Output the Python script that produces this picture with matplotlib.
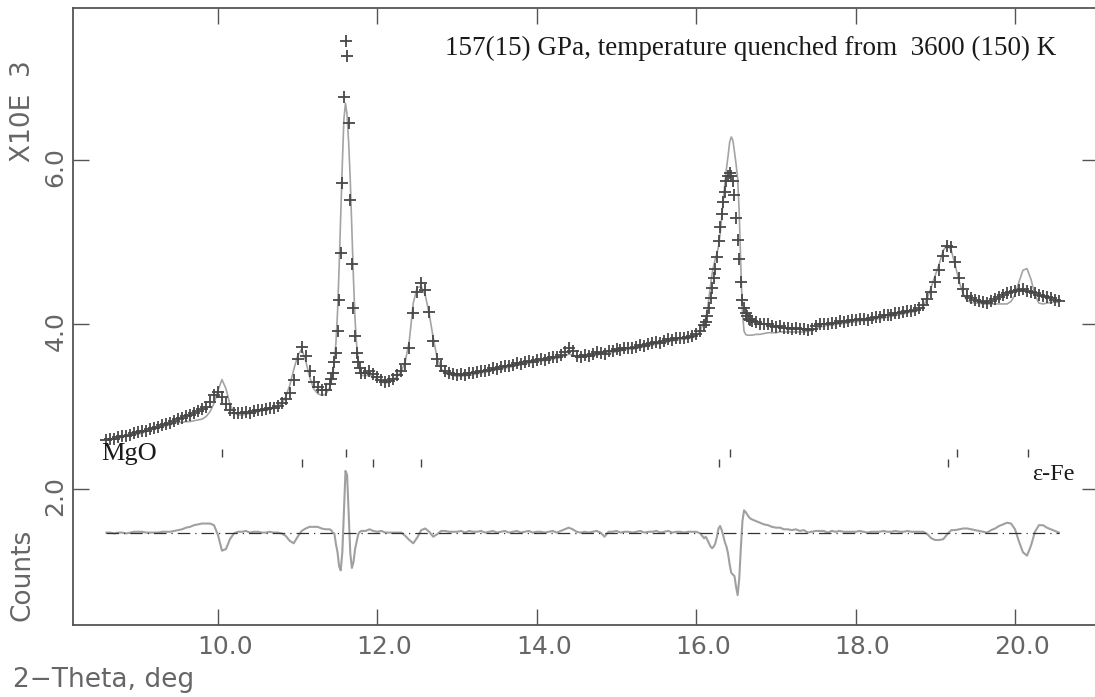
import matplotlib
matplotlib.use("Agg")
import matplotlib.pyplot as plt
import matplotlib.transforms as mtransforms
import numpy as np

# observed / calculated profile (intensity in units of 10^3 counts), read off the plot
# five scan segments: (start, stop) in 2-theta, coarse steps off-peak, fine steps on the big peaks
seg_a = (8.60, 11.40)
obs_a = [2.60, 2.61, 2.61, 2.63, 2.64, 2.64, 2.66, 2.68, 2.69, 2.70,
         2.71, 2.73, 2.74, 2.75, 2.78, 2.79, 2.80, 2.83, 2.85, 2.86,
         2.89, 2.90, 2.93, 2.95, 2.97, 3.00, 3.06, 3.14, 3.18, 3.12,
         3.03, 2.96, 2.93, 2.92, 2.92, 2.94, 2.93, 2.95, 2.96, 2.96,
         2.97, 2.99, 2.99, 3.01, 3.04, 3.09, 3.17, 3.33, 3.58, 3.73,
         3.62, 3.44, 3.30, 3.24, 3.20, 3.20, 3.28]
calc_a = [2.59, 2.60, 2.61, 2.62, 2.63, 2.64, 2.65, 2.66, 2.67, 2.68,
          2.70, 2.72, 2.73, 2.74, 2.76, 2.77, 2.78, 2.80, 2.81, 2.81,
          2.82, 2.82, 2.83, 2.84, 2.85, 2.88, 2.94, 3.04, 3.20, 3.33,
          3.22, 3.03, 2.93, 2.90, 2.90, 2.91, 2.92, 2.93, 2.94, 2.95,
          2.96, 2.97, 2.98, 3.00, 3.04, 3.12, 3.26, 3.45, 3.62, 3.70,
          3.56, 3.36, 3.22, 3.16, 3.14, 3.15, 3.23]

seg_b = (11.42, 11.80)
obs_b = [3.34, 3.41, 3.55, 3.65, 3.92, 4.30, 4.87, 5.72, 6.76, 7.45,
         7.26, 6.45, 5.51, 4.73, 4.20, 3.86, 3.65, 3.55, 3.47, 3.41]
calc_b = [3.30, 3.40, 3.55, 3.78, 4.15, 4.70, 5.32, 5.95, 6.50, 6.69,
          6.55, 6.20, 5.75, 5.15, 4.55, 4.05, 3.75, 3.56, 3.45, 3.38]

seg_c = (11.85, 16.10)
obs_c = [3.41, 3.43, 3.40, 3.36, 3.33, 3.30, 3.31, 3.34, 3.38, 3.44,
         3.52, 3.72, 4.14, 4.40, 4.50, 4.42, 4.15, 3.80, 3.58, 3.49,
         3.44, 3.41, 3.40, 3.39, 3.40, 3.39, 3.41, 3.41, 3.42, 3.44,
         3.43, 3.45, 3.47, 3.46, 3.48, 3.50, 3.49, 3.51, 3.53, 3.52,
         3.54, 3.56, 3.55, 3.57, 3.58, 3.57, 3.59, 3.61, 3.60, 3.63,
         3.67, 3.71, 3.68, 3.62, 3.61, 3.63, 3.62, 3.64, 3.66, 3.65,
         3.64, 3.68, 3.68, 3.70, 3.69, 3.71, 3.72, 3.71, 3.73, 3.75,
         3.74, 3.76, 3.77, 3.79, 3.78, 3.80, 3.82, 3.81, 3.83, 3.84,
         3.83, 3.85, 3.86, 3.88, 3.92, 3.99]
calc_c = [3.38, 3.38, 3.37, 3.34, 3.30, 3.29, 3.30, 3.33, 3.37, 3.43,
          3.55, 3.80, 4.26, 4.45, 4.46, 4.36, 4.13, 3.84, 3.59, 3.46,
          3.41, 3.39, 3.38, 3.37, 3.37, 3.38, 3.38, 3.39, 3.40, 3.41,
          3.42, 3.43, 3.44, 3.45, 3.46, 3.47, 3.48, 3.49, 3.50, 3.51,
          3.52, 3.53, 3.54, 3.55, 3.56, 3.56, 3.57, 3.58, 3.59, 3.60,
          3.62, 3.64, 3.63, 3.60, 3.60, 3.61, 3.61, 3.62, 3.63, 3.64,
          3.68, 3.66, 3.66, 3.67, 3.68, 3.69, 3.70, 3.70, 3.71, 3.72,
          3.73, 3.74, 3.75, 3.76, 3.77, 3.78, 3.79, 3.80, 3.81, 3.82,
          3.82, 3.83, 3.84, 3.86, 3.92, 4.05]

seg_d = (16.12, 16.70)
obs_d = [4.03, 4.10, 4.20, 4.32, 4.44, 4.56, 4.68, 4.82, 5.01, 5.19,
         5.34, 5.49, 5.61, 5.74, 5.80, 5.84, 5.80, 5.74, 5.58, 5.30,
         5.03, 4.80, 4.52, 4.30, 4.20, 4.14, 4.10, 4.07, 4.05, 4.04]
calc_d = [4.07, 4.18, 4.32, 4.48, 4.62, 4.72, 4.80, 4.86, 4.95, 5.10,
          5.30, 5.52, 5.72, 5.90, 6.05, 6.22, 6.28, 6.24, 6.10, 5.95,
          5.78, 5.35, 4.70, 4.15, 3.92, 3.88, 3.87, 3.87, 3.87, 3.87]

seg_e = (16.75, 20.55)
obs_e = [4.03, 4.01, 4.00, 4.00, 3.98, 3.97, 3.98, 3.96, 3.96, 3.95,
         3.96, 3.94, 3.95, 3.93, 3.95, 3.98, 4.00, 4.01, 4.00, 4.02,
         4.02, 4.04, 4.03, 4.04, 4.05, 4.05, 4.07, 4.07, 4.06, 4.08,
         4.09, 4.09, 4.11, 4.11, 4.12, 4.14, 4.14, 4.15, 4.17, 4.17,
         4.18, 4.20, 4.24, 4.31, 4.40, 4.52, 4.66, 4.83, 4.96, 4.94,
         4.76, 4.57, 4.43, 4.35, 4.32, 4.30, 4.29, 4.27, 4.26, 4.29,
         4.31, 4.34, 4.36, 4.38, 4.40, 4.41, 4.42, 4.43, 4.41, 4.40,
         4.38, 4.36, 4.35, 4.33, 4.32, 4.30, 4.28]
calc_e = [3.88, 3.88, 3.89, 3.90, 3.90, 3.90, 3.91, 3.91, 3.91, 3.91,
          3.91, 3.91, 3.91, 3.92, 3.93, 3.95, 3.97, 3.98, 3.99, 3.99,
          4.00, 4.01, 4.01, 4.02, 4.03, 4.03, 4.04, 4.05, 4.05, 4.06,
          4.07, 4.07, 4.08, 4.09, 4.10, 4.11, 4.12, 4.13, 4.14, 4.15,
          4.16, 4.18, 4.22, 4.32, 4.46, 4.60, 4.74, 4.90, 4.97, 4.90,
          4.72, 4.52, 4.37, 4.29, 4.27, 4.26, 4.26, 4.25, 4.25, 4.25,
          4.25, 4.25, 4.25, 4.25, 4.28, 4.36, 4.52, 4.66, 4.68, 4.55,
          4.36, 4.26, 4.25, 4.26, 4.27, 4.27, 4.27]

diff_offset = 1.46  # difference curve is drawn around this level

# reflection positions
mgo_ticks = [10.05, 11.60, 16.43, 19.27, 20.16]
fe_ticks = [11.05, 11.95, 12.55, 16.29, 19.16]

xticks = [10, 12, 14, 16, 18, 20]
yticks = [2, 4, 6]

segments = [(seg_a, obs_a, calc_a), (seg_b, obs_b, calc_b), (seg_c, obs_c, calc_c),
            (seg_d, obs_d, calc_d), (seg_e, obs_e, calc_e)]
tth = np.concatenate([np.linspace(s[0], s[1], len(o)) for s, o, c in segments])
obs = np.concatenate([o for s, o, c in segments])
calc = np.concatenate([c for s, o, c in segments])
diff = obs - calc + diff_offset

W, H = 1095, 697
fig = plt.figure(figsize=(W / 100, H / 100), dpi=100)
ax = fig.add_axes([73 / W, 72 / H, 1025 / W, 617 / H])

grey_txt = "#666666"
ax.plot(tth, calc, color="#a4a4a4", lw=1.2, zorder=2)
ax.plot(tth, obs, ls="none", marker="+", ms=9, mew=1.3, color="#484848", zorder=3)
ax.plot(tth, diff, color="#a0a0a0", lw=1.5, zorder=2)
ax.plot([tth[0], tth[-1]], [diff_offset, diff_offset], color="#333333", lw=0.9,
        ls=(0, (10, 4, 1, 4)), zorder=4)

ax.vlines(mgo_ticks, 2.39, 2.49, color="#444444", lw=1.0)
ax.vlines(fe_ticks, 2.27, 2.37, color="#444444", lw=1.0)

ax.set_xlim(8.181, 21.041)
ax.set_ylim(0.3465, 7.848)

for sp in ax.spines.values():
    sp.set_color("#555555")
    sp.set_linewidth(1.3)

ax.set_xticks(xticks, ["%.1f" % v for v in xticks])
ax.set_yticks(yticks, ["%.1f" % v for v in yticks])
ax.tick_params(direction="in", length=11.5, width=1.0, color="#555555",
               top=True, right=True, labelsize=18, labelcolor=grey_txt)
ax.tick_params(axis="x", pad=7)
ax.tick_params(axis="y", pad=4)
for lab in ax.get_xticklabels():
    lab.set_family("DejaVu Sans")
    lab.set_transform(lab.get_transform() + mtransforms.ScaledTranslation(0.07, 0, fig.dpi_scale_trans))
for lab in ax.get_yticklabels():
    lab.set_family("DejaVu Sans")
    lab.set_rotation(90)
    lab.set_va("center")
    lab.set_transform(lab.get_transform() + mtransforms.ScaledTranslation(0, -0.07, fig.dpi_scale_trans))

fig.text(23 / W, 1 - 111 / H, "X10E  3", rotation=90, ha="center", va="center",
         fontsize=19, color=grey_txt, family="DejaVu Sans")
fig.text(23 / W, 1 - 575 / H, "Counts", rotation=90, ha="center", va="center",
         fontsize=19, color=grey_txt, family="DejaVu Sans")
fig.text(13 / W, 1 - 687 / H, "2\u2212Theta, deg", ha="left", va="baseline",
         fontsize=19, color=grey_txt, family="DejaVu Sans")

fig.text(445 / W, 1 - 55 / H, "157(15) GPa, temperature quenched from  3600 (150) K",
         ha="left", va="baseline", fontsize=19.5, color="#1a1a1a", family="Liberation Serif")
fig.text(101 / W, 1 - 460 / H, "MgO", ha="left", va="baseline", fontsize=19,
         color="#1a1a1a", family="Liberation Serif")
fig.text(1032 / W, 1 - 480 / H, "\u03b5-Fe", ha="left", va="baseline", fontsize=17.5,
         color="#1a1a1a", family="Liberation Serif")

fig.savefig("out.png", dpi=100)
